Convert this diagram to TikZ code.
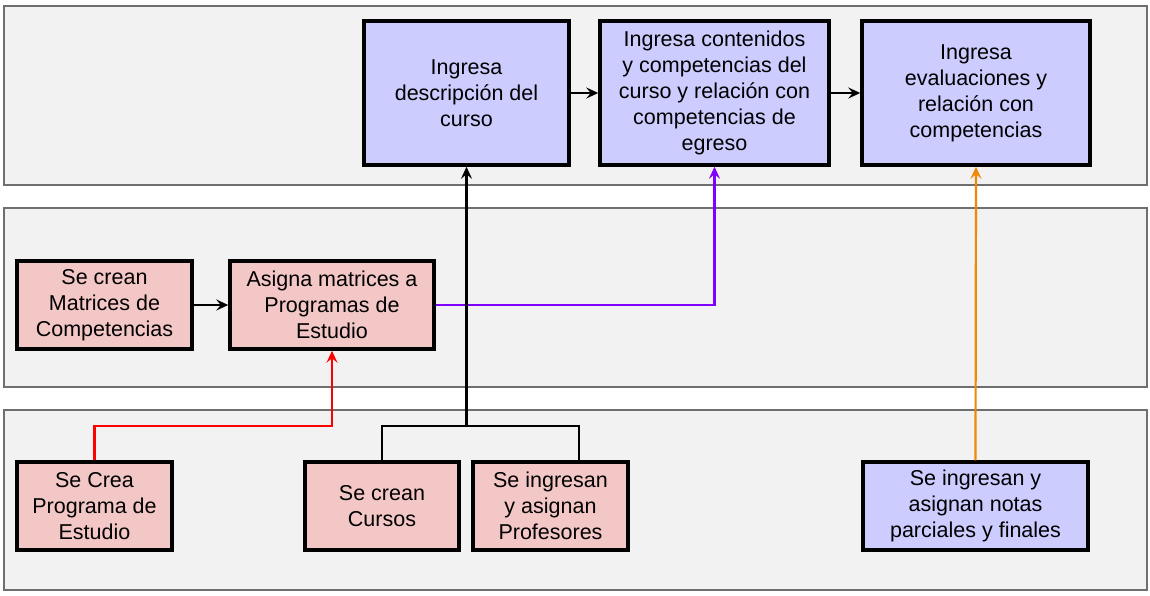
\documentclass[tikz,border=0pt]{standalone}
\usepackage{fontspec}
\setmainfont{Liberation Sans}
\usetikzlibrary{arrows.meta}
\definecolor{lanefill}{HTML}{F2F2F2}
\definecolor{lanedraw}{HTML}{6F6F6F}
\definecolor{pinkfill}{HTML}{F4C7C7}
\definecolor{bluefill}{HTML}{CCCCFF}
\definecolor{purp}{HTML}{7F00FF}
\definecolor{orng}{HTML}{F08705}
\definecolor{redl}{HTML}{FF0000}
\tikzset{
  lane/.style={fill=lanefill,draw=lanedraw,line width=1.2pt},
  box/.style={draw=black,line width=3.5pt,align=center,inner sep=0pt,
    font=\fontsize{21.5}{26}\selectfont},
  pinkbox/.style={box,fill=pinkfill},
  bluebox/.style={box,fill=bluefill},
  conn/.style={line width=2.2pt,-{Stealth[length=12pt,width=11pt,inset=4.5pt]}},
  plain/.style={line width=2.2pt}
}
\begin{document}
\begin{tikzpicture}[x=1pt,y=-1pt]
\useasboundingbox (0,0) rectangle (1150,596);
\fill[white] (0,0) rectangle (1150,596);
% lanes
\draw[lane] (4,6) rectangle (1147,185);
\draw[lane] (4,208) rectangle (1147,387);
\draw[lane] (4,410) rectangle (1147,590);
% nodes
\node[bluebox,minimum width=205pt,minimum height=144pt] (A) at (466.5,93) {Ingresa\\descripción del\\curso};
\node[bluebox,minimum width=229pt,minimum height=144pt] (B) at (714.5,93) {Ingresa contenidos\\y competencias del\\curso y relación con\\competencias de\\egreso};
\node[bluebox,minimum width=228pt,minimum height=144pt] (C) at (976,93) {Ingresa\\evaluaciones y\\relación con\\competencias};
\node[pinkbox,minimum width=175pt,minimum height=88pt] (D) at (104.5,305) {Se crean\\Matrices de\\Competencias};
\node[pinkbox,minimum width=204pt,minimum height=88pt] (E) at (332,305) {Asigna matrices a\\Programas de\\Estudio};
\node[pinkbox,minimum width=155pt,minimum height=88pt] (F) at (94.5,506) {Se Crea\\Programa de\\Estudio};
\node[pinkbox,minimum width=154pt,minimum height=88pt] (G) at (382,506) {Se crean\\Cursos};
\node[pinkbox,minimum width=155pt,minimum height=88pt] (H) at (550.5,506) {Se ingresan\\y asignan\\Profesores};
\node[bluebox,minimum width=225pt,minimum height=88pt] (I) at (975.5,506) {Se ingresan y\\asignan notas\\parciales y finales};
% junction coordinates
\coordinate (j) at (466.5,426);
\coordinate (hx) at (579,462);
% connectors
\draw[conn] (A) -- (B);
\draw[conn] (B) -- (C);
\draw[conn] (D) -- (E);
\draw[conn,purp] (E.east) -| (B.south);
\draw[conn,redl] (F.north) |- (332,426) -- (E.south);
\draw[plain] (G.north) |- (j);
\draw[plain] (hx) |- (j);
\draw[conn] (j) -- (A.south);
\draw[conn,orng] (I.north) -- (C.south);
\end{tikzpicture}
\end{document}
